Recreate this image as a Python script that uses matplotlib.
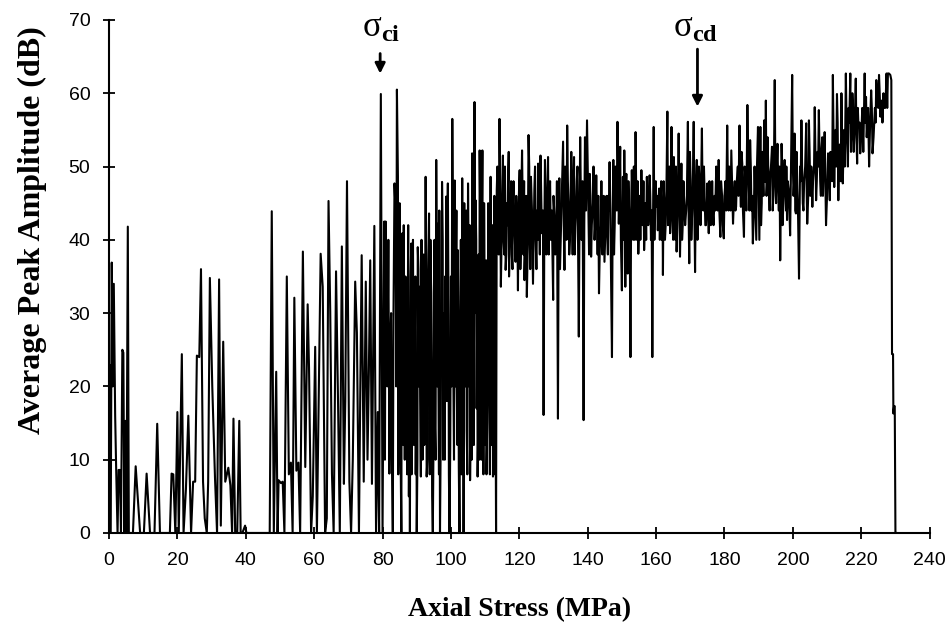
import numpy as np
import matplotlib.pyplot as plt

# acoustic emission record: (axial stress MPa, avg peak amplitude dB)
seg_a = [(0.0, 0), (0.05, 23), (0.3, 10), (0.5, 0), (0.8, 36.9), (1.1, 20), (1.4, 34), (1.8, 16),
         (2.1, 8.6), (2.5, 0), (2.8, 8.6), (3.2, 8.6), (3.5, 0), (3.7, 12), (3.9, 25), (4.2, 24.6),
         (4.5, 0), (4.8, 15.3), (5.1, 0), (5.5, 41.8), (5.8, 0), (7.0, 0), (7.8, 9.1), (9.1, 0),
         (10.2, 0), (11.0, 8.1), (12.0, 0), (13.3, 0), (14.1, 14.9), (14.9, 0), (17.8, 0), (18.3, 8.1),
         (18.8, 8.0), (19.4, 0), (20.0, 16.5), (20.4, 0), (21.3, 24.4), (21.8, 0), (22.5, 6), (23.2, 16),
         (24.0, 0), (24.6, 7), (25.2, 7), (25.7, 24.2), (26.4, 24), (26.9, 36), (27.5, 7), (28.0, 2),
         (28.6, 0), (29.0, 7), (29.5, 34.8), (30.2, 20), (31.0, 7.5), (31.6, 0), (32.2, 34.6), (32.7, 1),
         (33.4, 26.1), (34.0, 7), (34.9, 8.9), (35.5, 6.5), (36.0, 0), (36.4, 15.6), (36.9, 0), (37.5, 0),
         (38.1, 15.3), (38.5, 0), (39.0, 0), (39.8, 1), (40.2, 0), (47.0, 0)]

seg_b = [(47.6, 43.9), (48.2, 0), (48.9, 22), (49.3, 0), (49.6, 7.2), (50.3, 6.8), (50.8, 7.0), (51.3, 0),
         (52.0, 35), (52.6, 8), (53.2, 9.6), (53.7, 0), (54.2, 32.1), (54.8, 8.5), (55.4, 9.6), (55.9, 0),
         (56.7, 38.4), (57.4, 9), (58.1, 31.2), (58.5, 22.5), (59.1, 0), (59.6, 5), (60.3, 25.4), (60.8, 0),
         (61.9, 38.1), (62.5, 33.6), (63.2, 0), (63.7, 2), (64.2, 45.3), (64.7, 30.2), (65.2, 8.1), (65.7, 0),
         (66.4, 35.7), (67.0, 17.3), (67.5, 0), (68.1, 39.1), (68.7, 6.7), (69.1, 18), (69.6, 48), (70.3, 7),
         (70.8, 0), (71.3, 10), (72.0, 34.3), (72.5, 27.3), (73.1, 0), (73.5, 20), (73.9, 37.9), (74.5, 7),
         (75.1, 34.3), (75.6, 10), (76.0, 22), (76.4, 37.2), (76.9, 6.7), (77.6, 41.9), (78.1, 0),
         (78.6, 16.5), (79.0, 0), (79.5, 59.9), (80.0, 0)]

seg_c = [(80.5, 42.5), (80.9, 42.5), (81.4, 20), (82.0, 8.1), (82.5, 30), (83.0, 0), (83.5, 47.7),
         (83.8, 44), (84.2, 60.5), (84.5, 48.6), (84.8, 30), (85.0, 45), (85.3, 10), (85.5, 0), (85.8, 40.9),
         (86.1, 12), (86.4, 23.6), (86.7, 35), (87.1, 13.6), (87.4, 31.3), (87.7, 5), (88.0, 0), (88.4, 39.5),
         (88.7, 15), (89.0, 28), (89.4, 23.6), (89.7, 8), (90.0, 0), (90.3, 39), (90.6, 20), (90.8, 33.6),
         (91.2, 7.7), (91.5, 25), (91.8, 33.8), (92.2, 12), (92.6, 48.6), (92.9, 7.7), (93.2, 30),
         (93.6, 43.6), (93.9, 18), (94.2, 32.7), (94.5, 5), (94.7, 0), (95.0, 32.9), (95.3, 15), (95.7, 50.9),
         (96.0, 20), (96.2, 42.2), (96.5, 8), (96.8, 0), (97.1, 30), (97.4, 47.9), (97.7, 10), (98.0, 16),
         (98.3, 35), (98.6, 45.9), (98.8, 18), (99.1, 47.7), (99.4, 8), (99.6, 0), (100.0, 35), (100.4, 56.5),
         (100.7, 22), (101.1, 48.1), (101.4, 32), (101.7, 20), (102.0, 38.6), (102.3, 9), (102.5, 0),
         (102.9, 40), (103.3, 48.4), (103.5, 12), (103.7, 0), (104.0, 30), (104.3, 39), (104.6, 14),
         (105.0, 47.7), (105.3, 20), (105.6, 7.2), (105.9, 40), (106.2, 51.8), (106.5, 28), (106.9, 58.8),
         (107.2, 45.4), (107.5, 17), (107.8, 7.7), (108.1, 38), (108.4, 52.2), (108.7, 22), (109.0, 40),
         (109.2, 52.2), (109.5, 8), (109.9, 30), (110.3, 37.2), (110.6, 15), (110.9, 45), (111.2, 20),
         (111.6, 48.6), (111.9, 30), (112.3, 7.7), (112.7, 46), (113.0, 25), (113.2, 0)]

# the in-between strokes of the dark 80-113 MPa block
seg_c_fill = [(80.7, 10), (81.2, 35), (81.7, 40), (82.2, 25), (82.7, 12), (83.2, 30), (84.0, 20), (84.6, 8),
              (85.1, 38), (85.6, 28), (86.2, 42), (86.5, 10), (86.9, 33), (87.2, 8), (87.5, 42), (87.9, 20),
              (88.2, 35), (88.5, 8), (88.9, 40), (89.2, 12), (89.6, 35), (89.9, 22), (90.2, 10), (90.5, 36),
              (91.0, 18), (91.4, 40), (91.7, 10), (92.0, 38), (92.4, 22), (92.8, 30), (93.1, 10), (93.4, 38),
              (93.8, 8), (94.0, 40), (94.4, 20), (94.9, 12), (95.2, 40), (95.5, 10), (95.9, 35), (96.3, 25),
              (96.6, 44), (97.0, 12), (97.3, 22), (97.6, 40), (97.9, 30), (98.2, 10), (98.5, 20), (98.9, 40),
              (99.3, 30), (99.8, 12), (100.2, 20), (100.6, 40), (100.9, 10), (101.3, 20), (101.6, 44),
              (101.9, 12), (102.2, 30), (102.7, 20), (103.1, 8), (103.6, 35), (103.9, 45), (104.2, 20),
              (104.5, 44), (104.8, 8), (105.2, 36), (105.5, 42), (105.8, 18), (106.1, 10), (106.4, 45),
              (106.7, 12), (107.0, 30), (107.4, 40), (107.7, 30), (108.0, 15), (108.3, 10), (108.6, 42),
              (108.9, 10), (109.3, 30), (109.7, 45), (110.0, 12), (110.4, 8), (110.8, 30), (111.1, 40),
              (111.4, 8), (111.8, 12), (112.1, 42), (112.5, 20), (112.9, 8)]

seg_d = [(113.4, 46.8), (113.8, 40), (114.2, 56.5), (114.6, 33.6), (115.2, 51.5), (115.6, 38), (116.0, 35.9),
         (116.4, 45), (116.7, 47.7), (117.0, 35), (117.4, 42), (117.8, 38), (118.1, 44.5), (118.5, 43),
         (118.9, 37), (119.3, 40), (119.6, 33.1), (120.1, 49.5), (120.5, 40), (120.8, 52.2), (121.2, 38),
         (121.5, 34.5), (121.9, 40), (122.2, 32.2), (122.7, 54.3), (123.0, 42), (123.4, 48.6), (124.0, 34),
         (124.4, 46.8), (124.8, 40), (125.2, 44), (125.5, 50.4), (125.9, 41), (126.2, 51.5), (126.6, 40.9),
         (127.1, 16.1), (127.5, 50.9), (127.9, 38), (128.4, 51.3), (128.8, 45.9), (129.2, 40), (129.9, 31.8),
         (130.3, 43.1), (130.8, 40), (131.3, 15.6), (131.7, 48.4), (132.1, 40), (132.8, 53.4), (133.2, 35.9),
         (133.6, 46), (134.0, 55.6), (134.4, 44.5), (134.8, 40), (135.2, 52), (135.6, 38), (136.0, 51.3),
         (136.4, 41.8), (136.8, 48), (137.4, 26.8), (137.8, 54), (138.2, 40), (138.8, 15.4), (139.2, 54),
         (139.8, 56.3), (140.2, 44), (140.6, 49), (141.0, 37.7), (141.5, 45), (142.0, 40), (142.5, 48.8),
         (142.9, 38), (143.3, 32.7), (143.8, 42), (144.5, 44.0), (144.9, 37), (145.3, 42.7), (145.7, 41.3),
         (146.0, 46), (146.4, 50.6), (147.1, 24.0), (147.5, 50.9), (147.9, 42), (148.3, 48), (148.7, 56.1),
         (149.1, 42.2), (149.5, 52.7), (150.0, 33.1), (150.3, 48.6)]

seg_d_fill = [(113.6, 50), (114.0, 38), (114.4, 48), (114.9, 42), (115.4, 40), (115.8, 50), (116.2, 38),
              (116.6, 42), (116.9, 52), (117.2, 40), (117.6, 48), (118.0, 36), (118.3, 48), (118.7, 40),
              (119.1, 46), (119.5, 38), (119.8, 45), (120.3, 36), (120.6, 46), (121.0, 44), (121.4, 48),
              (121.7, 38), (122.0, 46), (122.5, 40), (122.9, 50), (123.2, 36), (123.7, 44), (124.2, 40),
              (124.6, 50), (125.0, 36), (125.4, 40), (125.7, 44), (126.0, 38), (126.4, 46), (126.9, 44),
              (127.3, 40), (127.7, 46), (128.1, 42), (128.6, 38), (129.0, 48), (129.5, 44), (130.0, 46),
              (130.5, 38), (131.0, 48), (131.5, 42), (131.9, 36), (132.4, 46), (133.0, 42), (133.4, 50),
              (133.8, 40), (134.2, 48), (134.6, 38), (135.0, 46), (135.4, 44), (135.8, 48), (136.2, 38),
              (136.6, 44), (137.0, 50), (137.6, 42), (138.0, 46), (138.5, 48), (139.0, 42), (139.5, 44),
              (140.0, 50), (140.4, 38), (140.8, 46), (141.2, 42), (141.7, 50), (142.2, 42), (142.7, 44),
              (143.1, 46), (143.5, 38), (144.0, 48), (144.3, 38), (144.7, 46), (145.1, 40), (145.5, 46),
              (145.9, 38), (146.2, 44), (146.7, 40), (147.3, 44), (147.7, 38), (148.1, 50), (148.5, 44),
              (148.9, 50), (149.3, 46), (149.7, 40), (150.2, 44)]

seg_e = [(150.7, 52.2), (151.0, 33.6), (151.3, 49), (151.7, 35.4), (152.1, 44), (152.5, 24.0), (152.9, 49.5),
         (153.3, 40), (153.6, 45), (154.0, 54.7), (154.4, 40), (154.8, 38.1), (155.2, 46), (155.7, 49.5),
         (156.1, 42), (156.5, 38.6), (156.9, 45), (157.3, 48.6), (157.7, 42), (158.1, 48.8), (158.5, 40),
         (158.9, 24), (159.3, 55.4), (159.7, 46), (160.1, 44.5), (160.5, 41.3), (160.9, 47), (161.3, 45.4),
         (161.7, 40), (162.0, 35.2), (162.4, 45.4), (162.8, 42), (163.3, 57.5), (163.7, 45), (164.1, 40.9),
         (164.5, 55.4), (164.8, 43), (165.2, 51.3), (165.6, 40), (166.0, 38.4), (166.6, 54.5), (167.0, 37.7),
         (167.4, 50.4), (167.8, 42), (168.2, 45.4), (168.8, 44), (169.3, 56.1), (169.7, 36.8), (170.1, 48.1),
         (170.5, 43), (171.0, 56.1), (171.4, 35.6), (171.9, 50.9), (172.3, 43.6), (172.8, 47), (173.4, 55.2),
         (173.8, 44), (174.2, 46.3), (174.6, 42), (175.0, 47.7), (175.4, 40.9), (175.8, 45), (176.2, 43),
         (176.6, 43.6), (177.1, 46), (177.6, 50), (178.0, 44), (178.3, 50.9), (178.8, 40.4), (179.3, 46),
         (179.8, 40.2), (180.3, 48), (180.8, 55.6), (181.2, 44), (181.6, 46), (182.0, 52.2), (182.5, 42.2),
         (183.0, 48), (183.4, 44.5), (183.9, 50), (184.4, 55.6), (184.8, 44.5), (185.2, 50.4), (185.7, 40.4),
         (186.2, 48), (186.7, 58.4), (187.1, 47.2), (187.5, 53.6), (187.9, 44), (188.3, 39.5), (188.8, 50),
         (189.3, 40), (189.8, 55.4)]

seg_e_fill = [(150.5, 40), (150.9, 44), (151.1, 46), (151.5, 40), (151.9, 48), (152.3, 40), (152.7, 44),
              (153.1, 46), (153.5, 50), (153.8, 40), (154.2, 46), (154.6, 48), (155.0, 42), (155.4, 40),
              (155.9, 44), (156.3, 48), (156.7, 42), (157.1, 40), (157.5, 46), (157.9, 44), (158.3, 46),
              (158.7, 44), (159.1, 42), (159.5, 40), (159.9, 48), (160.3, 46), (160.7, 44), (161.1, 40),
              (161.5, 48), (161.9, 44), (162.2, 48), (162.6, 40), (163.0, 46), (163.5, 42), (163.9, 50),
              (164.3, 44), (164.6, 48), (165.0, 40), (165.4, 46), (165.8, 50), (166.3, 44), (166.8, 46),
              (167.2, 44), (167.6, 40), (168.0, 48), (168.5, 42), (169.0, 46), (169.5, 44), (169.9, 52),
              (170.3, 40), (170.7, 46), (171.2, 44), (171.6, 46), (172.1, 40), (172.5, 50), (173.0, 42),
              (173.6, 46), (174.0, 50), (174.4, 42), (174.8, 44), (175.2, 46), (175.6, 48), (176.0, 42),
              (176.4, 48), (176.8, 42), (177.3, 44), (177.8, 46), (178.2, 48), (178.5, 44), (179.0, 48),
              (179.5, 42), (180.0, 46), (180.5, 44), (181.0, 48), (181.4, 50), (181.8, 44), (182.2, 48),
              (182.8, 46), (183.2, 44), (183.6, 48), (184.1, 46), (184.6, 48), (185.0, 52), (185.4, 44),
              (185.9, 50), (186.4, 44), (186.9, 52), (187.3, 44), (187.7, 50), (188.1, 46), (188.6, 44),
              (189.0, 46), (189.5, 50)]

seg_f = [(190.2, 40), (190.5, 55.4), (190.9, 45), (191.2, 49), (191.6, 56.3), (191.8, 47.9), (192.1, 59),
         (192.5, 48), (192.8, 50), (193.2, 44), (193.4, 49), (193.9, 52.7), (194.3, 46), (194.7, 61.8),
         (195.1, 45), (195.5, 53.1), (195.9, 44), (196.3, 37.2), (196.7, 53.1), (197.0, 42), (197.6, 50.9),
         (198.0, 44), (198.3, 42.7), (198.8, 46.8), (199.2, 40.6), (199.8, 62.5), (200.2, 46), (200.5, 54.5),
         (200.9, 43.6), (201.3, 47), (201.8, 34.7), (202.1, 50), (202.5, 56.3), (202.9, 45), (203.3, 48),
         (203.9, 55.9), (204.2, 42.2), (204.7, 56.3), (205.1, 46), (205.7, 44.5), (206.4, 58.1), (206.8, 45.4),
         (207.2, 52), (207.6, 57.7), (208.0, 48), (208.3, 51.8), (208.8, 46), (209.3, 54.7), (209.7, 42),
         (210.3, 51.8), (210.8, 45.4), (211.2, 50), (211.7, 62.5), (212.1, 47.2), (212.5, 55), (212.9, 59.9),
         (213.3, 45.4), (213.7, 53), (214.2, 60), (214.6, 47.7), (215.0, 55), (215.5, 62.7), (215.9, 53.1),
         (216.3, 58), (216.8, 62.7), (217.2, 54.5), (217.6, 58), (218.4, 62), (218.8, 50.4), (219.2, 55.4),
         (219.7, 51.8), (220.3, 58), (221.0, 62.7), (221.4, 59.5), (221.8, 56), (222.3, 50), (222.9, 60.4),
         (223.3, 51.8), (223.8, 56), (224.4, 61.8), (224.8, 58.1), (225.2, 62.5), (225.6, 56.8), (226.0, 59),
         (226.5, 60), (227.0, 58), (227.4, 62.7), (227.8, 62.7), (228.1, 62.7), (228.5, 62.5), (228.8, 61.8),
         (229.0, 24.4), (229.3, 24.4), (229.4, 16.3), (229.6, 17.3), (229.8, 17.3), (230.0, 0), (230.2, 0)]

seg_f_fill = [(190.0, 48), (190.4, 50), (190.7, 42), (191.0, 52), (191.4, 46), (192.0, 52), (192.3, 46),
              (192.6, 54), (193.0, 47), (193.6, 50), (194.1, 44), (194.5, 52), (194.9, 48), (195.3, 50),
              (195.7, 48), (196.1, 50), (196.5, 46), (196.9, 50), (197.3, 46), (197.8, 48), (198.1, 50),
              (198.5, 48), (199.0, 44), (199.5, 52), (200.0, 50), (200.4, 48), (200.7, 44), (201.1, 52),
              (201.5, 44), (202.0, 46), (202.3, 48), (202.7, 50), (203.1, 44), (203.6, 50), (204.0, 48),
              (204.5, 46), (204.9, 52), (205.4, 50), (205.9, 48), (206.2, 50), (206.6, 52), (207.0, 48),
              (207.4, 50), (207.8, 52), (208.2, 46), (208.6, 54), (209.0, 50), (209.5, 48), (210.0, 46),
              (210.5, 50), (211.0, 52), (211.5, 48), (211.9, 54), (212.3, 52), (212.7, 50), (213.1, 56),
              (213.5, 52), (214.0, 48), (214.4, 54), (214.8, 52), (215.2, 50), (215.7, 56), (216.1, 50),
              (216.5, 56), (217.0, 52), (217.4, 60), (217.8, 52), (218.1, 56), (218.6, 54), (219.0, 58),
              (219.5, 56), (220.0, 54), (220.6, 52), (221.2, 56), (221.6, 54), (222.0, 58), (222.6, 56),
              (223.1, 58), (223.6, 54), (224.0, 58), (224.2, 56), (224.6, 60), (225.0, 58), (225.4, 60),
              (225.8, 58), (226.2, 56), (226.7, 58), (227.2, 60), (227.6, 58)]

x_ticks = [0, 20, 40, 60, 80, 100, 120, 140, 160, 180, 200, 220, 240]
y_ticks = [0, 10, 20, 30, 40, 50, 60, 70]

# stress thresholds marked on the plot
sigma_ci = 79.3
sigma_cd = 172.1

plt.rcParams['mathtext.fontset'] = 'custom'
plt.rcParams['mathtext.rm'] = 'Liberation Serif'
plt.rcParams['mathtext.bf'] = 'Liberation Serif:bold'
plt.rcParams['mathtext.it'] = 'Liberation Serif:italic'

pts = np.array(seg_a + seg_b + seg_c + seg_c_fill + seg_d + seg_d_fill
               + seg_e + seg_e_fill + seg_f + seg_f_fill)
pts = pts[np.argsort(pts[:, 0], kind='stable')]

fig = plt.figure(figsize=(9.52, 6.26), dpi=100)
ax = fig.add_axes([0.1145, 0.1486, 0.862, 0.8195])

ax.plot(pts[:, 0], pts[:, 1], color='black', lw=1.5)

ax.set_xlim(0, 240)
ax.set_ylim(0, 70)
ax.set_xticks(x_ticks)
ax.set_yticks(y_ticks)
ax.spines['top'].set_visible(False)
ax.spines['right'].set_visible(False)
for s in ['left', 'bottom']:
    ax.spines[s].set_linewidth(1.5)
ax.tick_params(direction='inout', length=9, width=1.3, labelsize=14, pad=9)
for lbl in ax.get_xticklabels() + ax.get_yticklabels():
    lbl.set_fontfamily('Liberation Sans')

ax.set_xlabel('Axial Stress (MPa)', fontsize=20, fontweight='bold', family='Liberation Serif')
ax.xaxis.set_label_coords(0.5, -0.125)
ax.set_ylabel('Average Peak Amplitude (dB)', fontsize=23, fontweight='bold', family='Liberation Serif')
ax.yaxis.set_label_coords(-0.075, 0.59)

ax.annotate('', xy=(sigma_ci, 62.3), xytext=(sigma_ci, 65.8),
            arrowprops=dict(arrowstyle='-|>,head_width=0.3,head_length=0.6', lw=2, color='black'),
            annotation_clip=False)
ax.text(sigma_ci + 0.2, 69.0, r'$\mathrm{σ}_{\mathbf{ci}}$', fontsize=25, ha='center', va='center',
        clip_on=False)
ax.annotate('', xy=(sigma_cd, 57.8), xytext=(sigma_cd, 66.4),
            arrowprops=dict(arrowstyle='-|>,head_width=0.3,head_length=0.6', lw=2, color='black'),
            annotation_clip=False)
ax.text(sigma_cd - 0.6, 69.0, r'$\mathrm{σ}_{\mathbf{cd}}$', fontsize=25, ha='center', va='center',
        clip_on=False)

fig.savefig('out.png', dpi=100)
